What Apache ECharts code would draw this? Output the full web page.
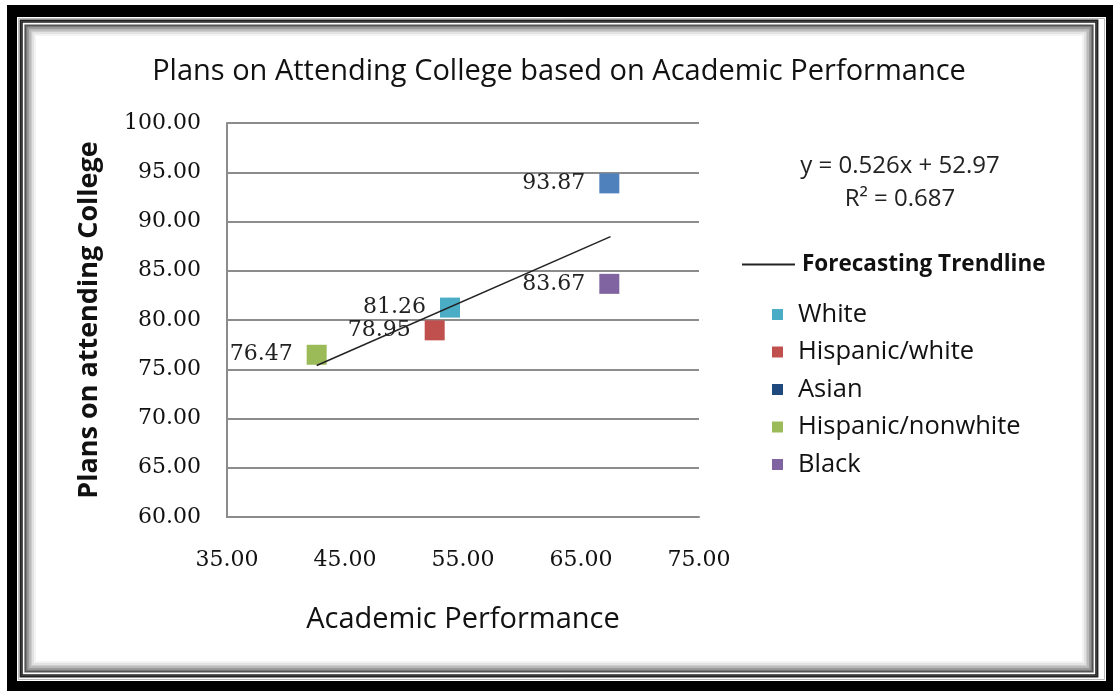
<!DOCTYPE html>
<html>
<head>
<meta charset="utf-8">
<title>Plans on Attending College</title>
<script src="https://cdn.jsdelivr.net/npm/echarts@6/dist/echarts.min.js"></script>
<style>
  html, body { margin: 0; padding: 0; background: #fff; }
  #chart { width: 1118px; height: 691px; }
</style>
</head>
<body>
<div id="chart"></div>
<script>
// data
const groups = ['White', 'Hispanic/white', 'Asian', 'Hispanic/nonwhite', 'Black']
const academic = [53.9, 52.6, 67.4, 42.6, 67.4]
const plans = [81.26, 78.95, 93.87, 76.47, 83.67]
// trendline ends (y = 0.526x + 52.97)
const trendX = [42.6, 67.5]
const trendY = [75.38, 88.47]
const equation = ['y = 0.526x + 52.97', 'R\u00b2 = 0.687']

// excel 2007 palette
const markerColors = ['#4BACC6', '#C0504D', '#4F81BD', '#9BBB59', '#8064A2']
const legendColors = ['#4BACC6', '#C0504D', '#1F497D', '#9BBB59', '#8064A2']

const sans = '"Open Sans", sans-serif'
const serif = '"DejaVu Serif", serif'

let myChart = echarts.init(document.getElementById('chart'))

// picture frame: black band + double line + soft inner shadow
let frame = [
  {type: 'rect', shape: {x: 7, y: 5, width: 1106, height: 686}, style: {fill: '#000'}},
  {type: 'rect', shape: {x: 17, y: 17, width: 1089, height: 664}, style: {fill: '#fff'}},
  {type: 'rect', shape: {x: 18.5, y: 18.5, width: 1086, height: 661}, style: {fill: 'none', stroke: '#bbb', lineWidth: 1}}
]
let shades = ['#222', '#222', '#fff', '#555', '#777', '#999', '#b4b4b4', '#cdcdcd', '#e2e2e2', '#f2f2f2']
shades.forEach(function (c, i) {
  let d = 20.5 + i * 1.6
  frame.push({type: 'rect', shape: {x: d, y: d, width: 1124 - 2 * d - 6, height: 699 - 2 * d - 2},
    style: {fill: 'none', stroke: c, lineWidth: 1.8}})
})

let eqText = equation.map(function (t, i) {
  return {
    type: 'text', x: 900, y: 166 + i * 33,
    style: {text: t, fill: '#222', font: '24px ' + sans, textAlign: 'center', textVerticalAlign: 'middle'}
  }
})

let series = groups.map(function (g, i) {
  return {
    name: g,
    type: 'scatter',
    symbol: 'rect',
    symbolSize: 20,
    itemStyle: {color: markerColors[i], opacity: 1},
    label: {
      show: true,
      position: 'left',
      distance: 14,
      color: '#222',
      fontFamily: serif,
      fontSize: 22,
      formatter: function (p) { return p.value[1].toFixed(2) }
    },
    data: [[academic[i], plans[i]]],
    z: 3
  }
})
series.push({
  name: 'Forecasting Trendline',
  type: 'line',
  symbol: 'none',
  color: '#222',
  lineStyle: {color: '#222', width: 1.5},
  data: trendX.map(function (x, i) { return [x, trendY[i]] }),
  z: 4
})

let option = {
  backgroundColor: '#fff',
  animation: false,
  title: {
    text: 'Plans on Attending College based on Academic Performance',
    left: 'center',
    top: 52,
    textStyle: {fontFamily: sans, fontSize: 29, fontWeight: 'normal', color: '#111'}
  },
  graphic: frame.concat(eqText),
  grid: {left: 227, top: 123, width: 472, height: 394},
  legend: [
    {
      data: ['Forecasting Trendline'],
      left: 742, top: 253,
      padding: 0,
      icon: 'rect',
      itemWidth: 53, itemHeight: 2,
      selectedMode: false,
      textStyle: {fontFamily: sans, fontSize: 22.5, fontWeight: 'bold', color: '#111', padding: [0, 0, 0, 2]}
    },
    {
      data: groups.map(function (g, i) { return {name: g, itemStyle: {color: legendColors[i]}} }),
      orient: 'vertical',
      left: 772, top: 301,
      padding: 0,
      icon: 'rect',
      itemWidth: 11, itemHeight: 11,
      itemGap: 10.5,
      selectedMode: false,
      textStyle: {fontFamily: sans, fontSize: 25.5, lineHeight: 27, color: '#111', padding: [0, 0, 0, 10]}
    }
  ],
  xAxis: {
    type: 'value',
    min: 35, max: 75, interval: 10,
    name: 'Academic Performance',
    nameLocation: 'middle',
    nameGap: 88,
    nameTextStyle: {fontFamily: sans, fontSize: 29, color: '#111'},
    axisLine: {show: true, lineStyle: {color: '#8c8c8c', width: 2}},
    axisTick: {show: false},
    splitLine: {show: false},
    axisLabel: {
      margin: 32,
      fontFamily: serif, fontSize: 22, color: '#111',
      formatter: function (v) { return v.toFixed(2) }
    }
  },
  yAxis: {
    type: 'value',
    min: 60, max: 100, interval: 5,
    name: 'Plans on attending College',
    nameLocation: 'middle',
    nameGap: 124,
    nameTextStyle: {fontFamily: sans, fontSize: 27, fontWeight: 'bold', color: '#111'},
    axisLine: {show: true, lineStyle: {color: '#8c8c8c', width: 2}},
    axisTick: {show: false},
    splitLine: {show: true, lineStyle: {color: '#8c8c8c', width: 2}},
    axisLabel: {
      margin: 26,
      fontFamily: serif, fontSize: 22, color: '#111',
      formatter: function (v) { return v.toFixed(2) }
    }
  },
  series: series
}

myChart.setOption(option)
window.onresize = function () {
  myChart.resize()
}
</script>
</body>
</html>
